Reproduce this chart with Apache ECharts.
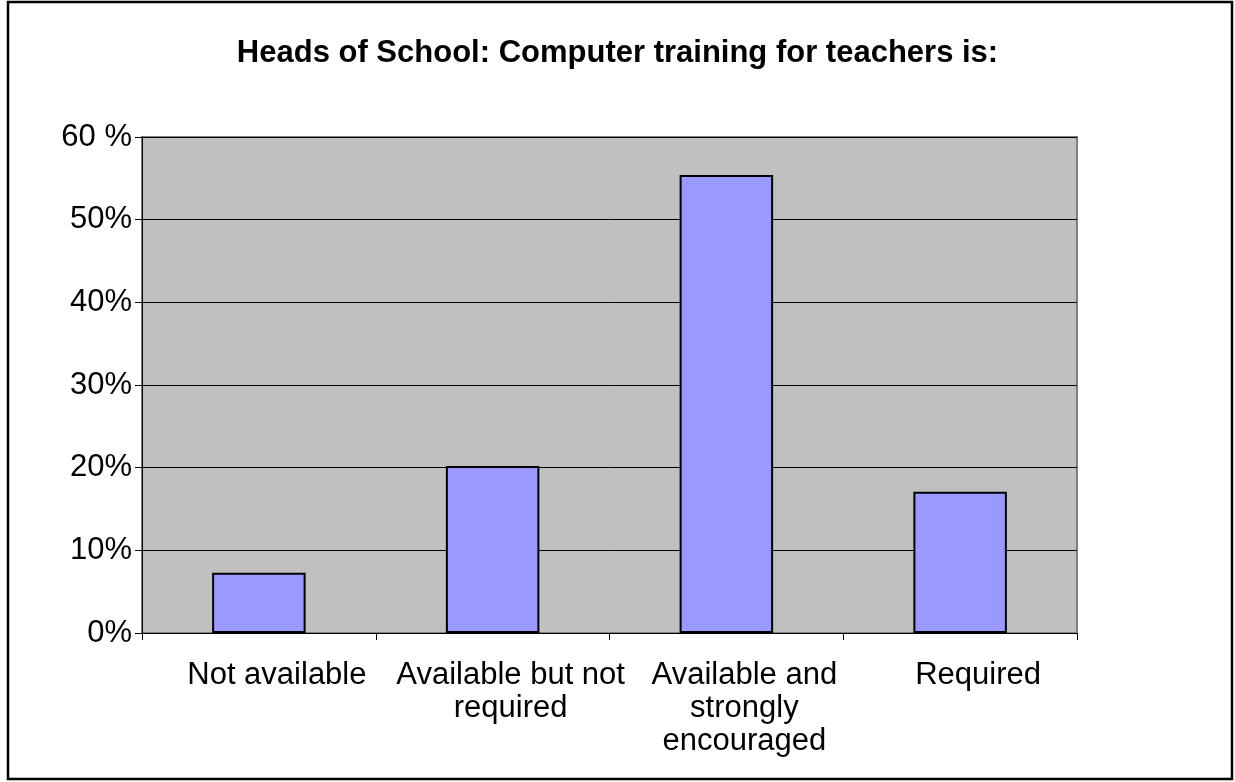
<!DOCTYPE html>
<html>
<head>
<meta charset="utf-8">
<script src="https://cdn.jsdelivr.net/npm/echarts@6/dist/echarts.min.js"></script>
<style>
html, body { margin: 0; padding: 0; background: #fff; }
#chart { width: 1235px; height: 782px; }
</style>
</head>
<body>
<div id="chart"></div>
<script>
var categories = ['Not available', 'Available but not\nrequired', 'Available and\nstrongly\nencouraged', 'Required'];
var values = [7.3, 20.2, 55.4, 17.1];
var tickLabels = ['0%', '10%', '20%', '30%', '40%', '50%', '60 %'];

var myChart = echarts.init(document.getElementById('chart'));
var option = {
    backgroundColor: '#fff',
    animation: false,
    title: {
        text: 'Heads of School: Computer training for teachers is:',
        left: 'center',
        top: 33,
        textStyle: { fontFamily: 'Liberation Sans', fontSize: 31, fontWeight: 'bold', color: '#000' }
    },
    graphic: [{
        type: 'rect',
        shape: { x: 8, y: 2, width: 1224, height: 777 },
        style: { fill: 'none', stroke: '#000', lineWidth: 2.5 }
    }],
    grid: { left: 142, right: 158, top: 137, bottom: 149, backgroundColor: '#c0c0c0', show: true, borderColor: '#808080', borderWidth: 2 },
    xAxis: {
        type: 'category',
        data: categories,
        axisLine: { lineStyle: { color: '#000', width: 1 } },
        axisTick: { show: true, length: 7, lineStyle: { color: '#000' } },
        axisLabel: { color: '#000', fontFamily: 'Liberation Sans', fontSize: 31, lineHeight: 33, margin: 26, interval: 0, padding: [0, 0, 0, 36] }
    },
    yAxis: {
        type: 'value',
        min: 0, max: 60, interval: 10,
        axisLine: { show: true, lineStyle: { color: '#000', width: 1 } },
        axisTick: { show: true, length: 7, lineStyle: { color: '#000' } },
        splitLine: { lineStyle: { color: '#000', width: 1 } },
        axisLabel: {
            color: '#000', fontFamily: 'Liberation Sans', fontSize: 31, margin: 10,
            formatter: function (v) { return tickLabels[Math.round(v / 10)]; }
        }
    },
    series: [{
        type: 'bar',
        data: values,
        barCategoryGap: '60%',
        itemStyle: { color: '#9999ff', borderColor: '#000', borderWidth: 2 }
    }]
};
myChart.setOption(option);
</script>
</body>
</html>
